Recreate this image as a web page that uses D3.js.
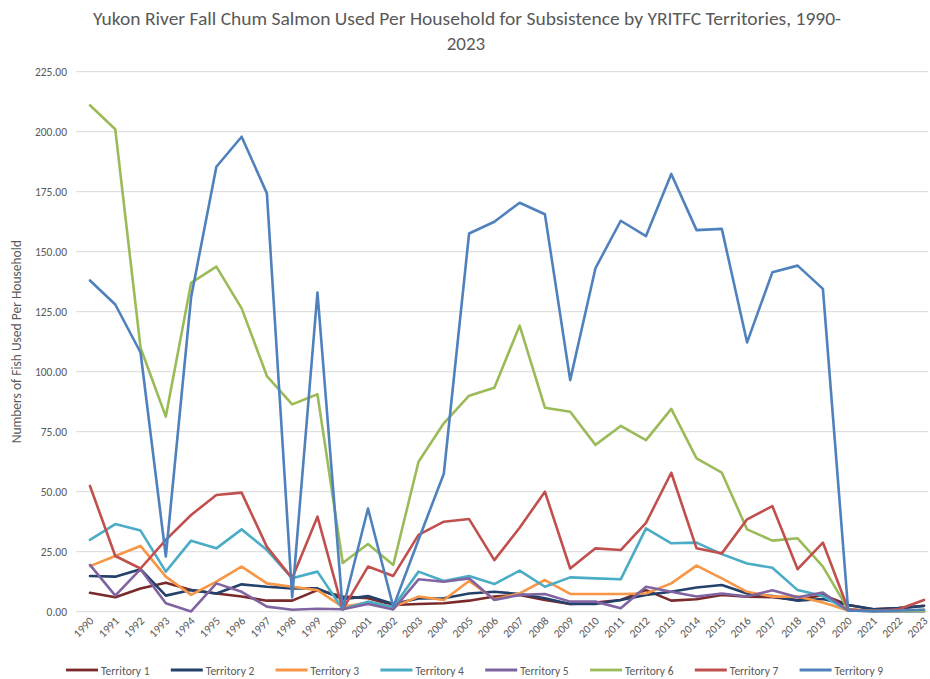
<!DOCTYPE html>
<html>
<head>
<meta charset="utf-8">
<script src="https://cdn.jsdelivr.net/npm/d3@7"></script>
<style>
  html, body { margin: 0; padding: 0; background: #fff; }
  svg text { font-family: Carlito, Lato, "Open Sans", sans-serif; fill: #595959; }
</style>
</head>
<body>
<svg id="chart" width="930" height="679"></svg>
<script>
// Fish used per household for subsistence, by territory and year
const years = d3.range(1990, 2024);

const territory1 = [7.9, 6.0, 9.7, 12.1, 9.0, 7.6, 6.3, 4.6, 4.6, 9.0, 6.3, 5.6, 2.8, 3.2, 3.5, 4.6, 6.3, 7.0, 4.9, 3.2, 3.8, 4.9, 9.0, 4.6, 5.2, 7.0, 6.3, 6.0, 4.9, 7.0, 2.8, 1.0, 1.5, 2.5];
const territory2 = [14.9, 14.6, 17.7, 6.7, 9.0, 7.6, 11.4, 10.4, 9.7, 9.7, 5.2, 6.5, 3.2, 5.5, 5.6, 7.6, 8.3, 7.4, 5.6, 3.2, 3.2, 4.9, 7.0, 8.3, 10.1, 11.1, 7.6, 6.5, 4.6, 5.3, 2.8, 1.0, 1.5, 2.4];
const territory3 = [19.0, 23.2, 27.4, 14.6, 7.0, 12.5, 18.8, 11.8, 10.4, 9.0, 2.0, 3.8, 2.0, 6.3, 4.9, 12.8, 5.2, 7.6, 13.2, 7.4, 7.4, 7.4, 7.6, 11.8, 19.2, 13.9, 8.3, 6.3, 6.3, 3.8, 0.5, 0.3, 0.3, 0.8];
const territory4 = [29.9, 36.5, 33.8, 16.7, 29.6, 26.4, 34.3, 25.7, 13.9, 16.7, 1.0, 4.2, 2.0, 16.7, 12.8, 14.9, 11.5, 17.1, 10.4, 14.3, 13.9, 13.5, 34.7, 28.5, 28.8, 24.0, 20.1, 18.3, 9.0, 6.5, 0.5, 0.2, 0.2, 0.2];
const territory5 = [19.5, 6.7, 17.7, 3.5, 0.1, 11.8, 8.3, 2.1, 0.8, 1.2, 1.0, 3.2, 0.9, 13.5, 12.5, 13.9, 4.9, 7.0, 7.4, 4.2, 4.2, 1.4, 10.4, 8.3, 6.3, 7.6, 6.3, 8.9, 6.0, 8.0, 0.5, 0.2, 0.2, 0.2];
const territory6 = [211.0, 201.0, 110.0, 81.3, 137.0, 143.8, 126.4, 98.2, 86.4, 90.6, 20.3, 28.2, 19.5, 62.5, 78.5, 90.0, 93.3, 119.2, 85.0, 83.3, 69.5, 77.4, 71.5, 84.5, 63.9, 57.9, 34.3, 29.6, 30.6, 18.8, 1.0, 0.3, 0.3, 0.3];
const territory7 = [52.4, 23.2, 18.0, 29.9, 40.3, 48.6, 49.6, 27.0, 13.9, 39.6, 1.0, 18.8, 14.9, 32.0, 37.5, 38.6, 21.5, 35.0, 50.0, 18.0, 26.4, 25.7, 37.0, 57.9, 26.4, 24.3, 38.5, 44.0, 17.7, 28.8, 1.0, 0.3, 1.0, 4.9];
const territory9 = [138.0, 128.0, 108.0, 23.0, 131.0, 185.4, 197.9, 174.3, 6.0, 133.0, 1.0, 43.0, 2.0, 30.0, 57.5, 157.6, 162.5, 170.4, 165.6, 96.5, 143.1, 162.9, 156.5, 182.4, 159.0, 159.5, 112.2, 141.4, 144.2, 134.5, 0.5, 0.3, 0.5, 0.8];

const seriesNames = ["Territory 1", "Territory 2", "Territory 3", "Territory 4", "Territory 5", "Territory 6", "Territory 7", "Territory 9"];
const seriesValues = [territory1, territory2, territory3, territory4, territory5, territory6, territory7, territory9];
const seriesColors = ["#7a2a2a", "#24416b", "#f79646", "#4bacc6", "#8064a2", "#9bbb59", "#c0504d", "#4f81bd"];

const yTicks = [0, 25, 50, 75, 100, 125, 150, 175, 200, 225];

const svg = d3.select("#chart");
const plot = { left: 76, right: 928, top: 71.7, bottom: 611.7 };

const x = d3.scalePoint().domain(years).range([90, 924]);
const y = d3.scaleLinear().domain([0, 225]).range([plot.bottom, plot.top]);

// Title
const title = svg.append("g").attr("font-size", 19);
title.append("text").attr("x", 467).attr("y", 25).attr("text-anchor", "middle")
  .attr("textLength", 748).attr("lengthAdjust", "spacingAndGlyphs")
  .text("Yukon River Fall Chum Salmon Used Per Household for Subsistence by YRITFC Territories, 1990-");
title.append("text").attr("x", 466).attr("y", 50).attr("text-anchor", "middle").text("2023");

// Gridlines
svg.append("g")
  .selectAll("line").data(yTicks).join("line")
  .attr("x1", plot.left).attr("x2", plot.right)
  .attr("y1", d => y(d)).attr("y2", d => y(d))
  .attr("stroke", "#d9d9d9").attr("stroke-width", 1);

// Y axis
const yAxis = svg.append("g")
  .attr("transform", `translate(${plot.left - 9},0)`)
  .call(d3.axisLeft(y).tickValues(yTicks).tickFormat(d3.format(".2f")).tickSize(0).tickPadding(0));
yAxis.select(".domain").remove();
yAxis.selectAll("text").attr("font-size", 11.5).attr("fill", "#595959")
  .style("font-family", "Carlito, Lato, 'Open Sans', sans-serif");

svg.append("text")
  .attr("transform", `translate(21,${(plot.top + plot.bottom) / 2}) rotate(-90)`)
  .attr("text-anchor", "middle").attr("font-size", 13.5)
  .text("Numbers of Fish Used Per Household");

// X axis
const xAxis = svg.append("g")
  .attr("transform", `translate(0,${plot.bottom})`)
  .call(d3.axisBottom(x).tickSize(0).tickPadding(0));
xAxis.select(".domain").remove();
xAxis.selectAll("text")
  .attr("font-size", 11.5).attr("fill", "#595959")
  .style("font-family", "Carlito, Lato, 'Open Sans', sans-serif")
  .attr("text-anchor", "end")
  .attr("dy", null)
  .attr("transform", "translate(4,10) rotate(-45)");

// Series lines
const line = d3.line().x((d, i) => x(years[i])).y(d => y(d));
svg.append("g")
  .selectAll("path").data(seriesValues).join("path")
  .attr("d", d => line(d))
  .attr("fill", "none")
  .attr("stroke", (d, i) => seriesColors[i])
  .attr("stroke-width", 2.6)
  .attr("stroke-linejoin", "round")
  .attr("stroke-linecap", "round");

// Legend
const legend = svg.append("g").attr("transform", "translate(66,670)");
const item = legend.selectAll("g").data(seriesNames).join("g")
  .attr("transform", (d, i) => `translate(${i * 104.8},0)`);
item.append("line").attr("x1", 0).attr("x2", 32).attr("y1", 0).attr("y2", 0)
  .attr("stroke", (d, i) => seriesColors[i]).attr("stroke-width", 2.8);
item.append("text").attr("x", 35).attr("y", 4.5).attr("font-size", 11.5).text(d => d);
</script>
</body>
</html>
